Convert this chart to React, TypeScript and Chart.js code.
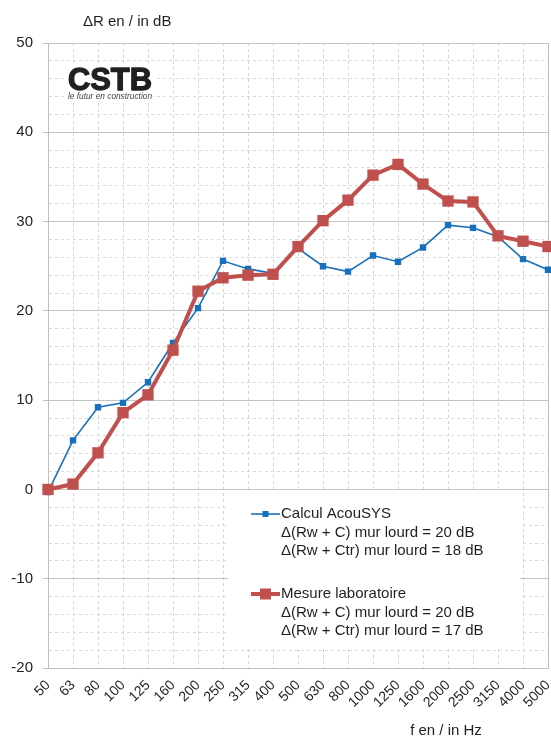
import React, { useEffect, useRef } from 'react';
import { Chart, registerables } from 'chart.js';

Chart.register(...registerables);

const frequencies = ['50', '63', '80', '100', '125', '160', '200', '250', '315', '400', '500', '630', '800', '1000', '1250', '1600', '2000', '2500', '3150', '4000', '5000'];
const calculAcouSYS = [-0.3, 5.5, 9.2, 9.7, 12.0, 16.4, 20.3, 25.6, 24.7, 24.2, 27.0, 25.0, 24.4, 26.2, 25.5, 27.1, 29.6, 29.3, 28.3, 25.8, 24.6];
const mesureLaboratoire = [0.0, 0.6, 4.1, 8.6, 10.6, 15.6, 22.2, 23.7, 24.0, 24.1, 27.2, 30.1, 32.4, 35.2, 36.4, 34.2, 32.3, 32.2, 28.4, 27.8, 27.2];
const legendCalcul = ['Calcul AcouSYS', 'Δ(Rw + C) mur lourd = 20 dB', 'Δ(Rw + Ctr) mur lourd = 18 dB'];
const legendMesure = ['Mesure laboratoire', 'Δ(Rw + C) mur lourd = 20 dB', 'Δ(Rw + Ctr) mur lourd = 17 dB'];
const yTitle = 'ΔR en / in dB';
const xTitle = 'f en / in Hz';
const logoText = 'CSTB';
const logoTagline = 'le futur en construction';
const yMin = -20;
const yMax = 50;
const yStep = 2;
const yMajor = 10;

const FONT = '"Liberation Sans", Arial, sans-serif';
const BLUE = '#1770bb';
const RED = '#c0504d';
const TEXT = '#1f1f1f';
const PLOT_RIGHT = 548;

const fixRightPlugin = {
  id: 'fixRight',
  afterLayout(chart: any) {
    const area = chart.chartArea;
    if (area.right !== PLOT_RIGHT) {
      area.right = PLOT_RIGHT;
      area.width = area.right - area.left;
      const xs = chart.scales.x;
      xs.right = PLOT_RIGHT;
      xs.width = xs.right - xs.left;
      xs.configure();
    }
  },
};

const overlayPlugin = {
  id: 'overlay',
  afterDraw(chart: any) {
    const ctx = chart.ctx as CanvasRenderingContext2D;
    ctx.save();
    // axis titles
    ctx.fillStyle = TEXT;
    ctx.font = `15px ${FONT}`;
    ctx.textBaseline = 'middle';
    ctx.textAlign = 'left';
    ctx.fillText(yTitle, 83, 22);
    ctx.textAlign = 'center';
    ctx.fillText(xTitle, 446, 731);

    // logo
    ctx.fillStyle = '#ffffff';
    ctx.fillRect(65, 63, 90, 30);
    ctx.fillStyle = '#231f20';
    ctx.strokeStyle = '#231f20';
    ctx.lineWidth = 1.3;
    ctx.lineJoin = 'round';
    ctx.font = `bold 31px ${FONT}`;
    ctx.textAlign = 'left';
    ctx.textBaseline = 'alphabetic';
    ctx.fillText(logoText, 68, 90, 84);
    ctx.strokeText(logoText, 68, 90, 84);
    ctx.font = `italic 8.5px ${FONT}`;
    const tw = Math.min(ctx.measureText(logoTagline).width, 84);
    ctx.fillStyle = '#ffffff';
    ctx.fillRect(67, 92, tw + 2, 9);
    ctx.fillStyle = '#4a3f38';
    ctx.textBaseline = 'middle';
    ctx.fillText(logoTagline, 68, 97, 84);

    // legend
    ctx.fillStyle = '#ffffff';
    ctx.fillRect(228, 492, 292, 155);
    ctx.font = `15px ${FONT}`;
    ctx.textAlign = 'left';
    ctx.textBaseline = 'middle';
    const drawBlock = (lines: string[], y0: number, color: string, lw: number, sq: number) => {
      ctx.strokeStyle = color;
      ctx.lineWidth = lw;
      ctx.beginPath();
      ctx.moveTo(251, y0);
      ctx.lineTo(280, y0);
      ctx.stroke();
      ctx.fillStyle = color;
      ctx.fillRect(265.5 - sq / 2, y0 - sq / 2, sq, sq);
      ctx.fillStyle = TEXT;
      lines.forEach((t, i) => ctx.fillText(t, 281, y0 + i * 18.6));
    };
    drawBlock(legendCalcul, 514, BLUE, 1.6, 6);
    drawBlock(legendMesure, 594, RED, 4, 11);
    ctx.restore();
  },
};

export default function App() {
  const ref = useRef<HTMLCanvasElement | null>(null);
  useEffect(() => {
    if (!ref.current) return;
    const chart = new Chart(ref.current, {
      type: 'line',
      data: {
        labels: frequencies,
        datasets: [
          {
            label: 'Calcul AcouSYS',
            data: calculAcouSYS,
            borderColor: BLUE,
            backgroundColor: BLUE,
            borderWidth: 1.6,
            pointStyle: 'rect',
            pointRadius: 4.5,
            pointBorderWidth: 0,
            pointBackgroundColor: BLUE,
            tension: 0,
            order: 1,
          },
          {
            label: 'Mesure laboratoire',
            data: mesureLaboratoire,
            borderColor: RED,
            backgroundColor: RED,
            borderWidth: 4,
            pointStyle: 'rect',
            pointRadius: 8,
            pointBorderWidth: 0,
            pointBackgroundColor: RED,
            tension: 0,
            order: 0,
          },
        ],
      },
      options: {
        responsive: false,
        animation: false,
        devicePixelRatio: 1,
        layout: { padding: { top: 43, left: 0, right: 3, bottom: 0 } },
        plugins: { legend: { display: false }, tooltip: { enabled: false } },
        scales: {
          x: {
            type: 'category',
            offset: false,
            grid: {
              offset: false,
              color: (c: any) => (c.index === 0 || c.index === frequencies.length - 1 ? '#bfbfbf' : '#d4d4d4'),
              drawTicks: false,
            },
            border: {
              display: true,
              color: '#bfbfbf',
              dash: (c: any) => (c.index === undefined || c.index === 0 || c.index === frequencies.length - 1 ? [] : [3, 3]),
            },
            ticks: {
              autoSkip: false,
              maxRotation: 45,
              minRotation: 45,
              padding: 9,
              color: TEXT,
              font: { family: FONT, size: 14 },
            },
            afterFit: (s: any) => {
              s.height = 72;
              s.paddingLeft = 0;
              s.paddingRight = 0;
            },
          },
          y: {
            min: yMin,
            max: yMax,
            grid: {
              color: (c: any) => (c.tick && c.tick.value % yMajor === 0 ? '#c4c4c4' : '#d9d9d9'),
              tickLength: 5,
              tickColor: (c: any) => (c.tick && c.tick.value % yMajor === 0 ? '#bfbfbf' : 'rgba(0,0,0,0)'),
            },
            border: {
              display: true,
              color: '#bfbfbf',
              dash: (c: any) => (c.tick && c.tick.value % yMajor !== 0 ? [3, 3] : []),
            },
            ticks: {
              stepSize: yStep,
              maxTicksLimit: 100,
              autoSkip: false,
              padding: 10,
              color: TEXT,
              font: { family: FONT, size: 15 },
              callback: (v: any) => (Number(v) % yMajor === 0 ? String(v) : ''),
            },
            afterFit: (s: any) => {
              s.width = 48;
            },
          },
        },
      },
      plugins: [fixRightPlugin, overlayPlugin],
    } as any);
    return () => chart.destroy();
  }, []);
  return (
    <div style={{ position: 'absolute', left: 0, top: 0, width: 551, height: 740, background: '#fff' }}>
      <canvas ref={ref} width={551} height={740} style={{ display: 'block' }} />
    </div>
  );
}
